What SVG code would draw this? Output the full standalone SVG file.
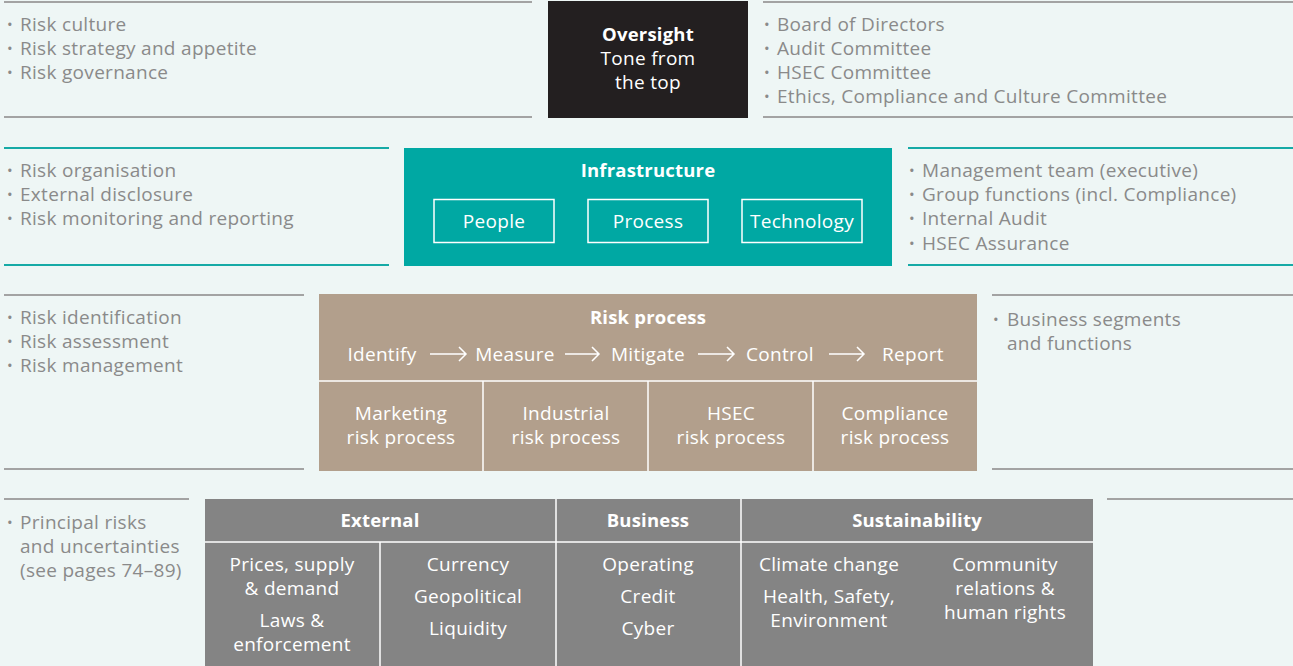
<svg xmlns="http://www.w3.org/2000/svg" width="1293" height="666" viewBox="0 0 1293 666">
<style>
text{font-family:"Open Sans","Noto Sans","Liberation Sans",sans-serif;font-size:19px;letter-spacing:0.3px}
.li{fill:#8a8a8a}
.w{fill:#ffffff}
.c{text-anchor:middle}
.b{font-weight:700;font-size:18.5px;letter-spacing:0.2px}
.gl{stroke:#a3a3a3;stroke-width:2}
.tl{stroke:#16aaa6;stroke-width:2}
.wl{stroke:#ffffff;stroke-width:1.5;fill:none}
.bu{font-size:15px}
</style>
<rect width="1293" height="666" fill="#eef6f5"/>
<g id="connectors">
<line class="gl" x1="4" y1="2" x2="532" y2="2"/><line class="gl" x1="4" y1="117" x2="532" y2="117"/>
<line class="gl" x1="763" y1="2" x2="1293" y2="2"/><line class="gl" x1="763" y1="117" x2="1293" y2="117"/>
<line class="tl" x1="4" y1="148" x2="389" y2="148"/><line class="tl" x1="4" y1="265" x2="389" y2="265"/>
<line class="tl" x1="908" y1="148" x2="1293" y2="148"/><line class="tl" x1="908" y1="265" x2="1293" y2="265"/>
<line class="gl" x1="4" y1="295" x2="304" y2="295"/><line class="gl" x1="4" y1="469" x2="304" y2="469"/>
<line class="gl" x1="992" y1="295" x2="1293" y2="295"/><line class="gl" x1="992" y1="469" x2="1293" y2="469"/>
<line class="gl" x1="4" y1="499" x2="189" y2="499"/><line class="gl" x1="1107" y1="499" x2="1293" y2="499"/>
</g>
<g id="oversight-left" class="li">
<text class="bu" x="7" y="30">•</text><text x="20" y="31">Risk culture</text>
<text class="bu" x="7" y="54">•</text><text x="20" y="55">Risk strategy and appetite</text>
<text class="bu" x="7" y="78">•</text><text x="20" y="79">Risk governance</text>
</g>
<g id="oversight">
<rect x="548" y="1" width="200" height="117" fill="#231f20"/>
<text class="w c b" x="648" y="41">Oversight</text>
<text class="w c" x="648" y="65">Tone from</text>
<text class="w c" x="648" y="89">the top</text>
</g>
<g id="oversight-right" class="li">
<text class="bu" x="764" y="30">•</text><text x="777" y="31">Board of Directors</text>
<text class="bu" x="764" y="54">•</text><text x="777" y="55">Audit Committee</text>
<text class="bu" x="764" y="78">•</text><text x="777" y="79">HSEC Committee</text>
<text class="bu" x="764" y="102">•</text><text x="777" y="103">Ethics, Compliance and Culture Committee</text>
</g>
<g id="infra-left" class="li">
<text class="bu" x="7" y="176">•</text><text x="20" y="177">Risk organisation</text>
<text class="bu" x="7" y="200">•</text><text x="20" y="201">External disclosure</text>
<text class="bu" x="7" y="224">•</text><text x="20" y="225">Risk monitoring and reporting</text>
</g>
<g id="infrastructure">
<rect x="404" y="148" width="488" height="118" fill="#00a8a3"/>
<text class="w c b" x="648" y="177">Infrastructure</text>
<rect class="wl" x="434" y="199.5" width="120" height="43"/>
<rect class="wl" x="588" y="199.5" width="120" height="43"/>
<rect class="wl" x="742" y="199.5" width="120" height="43"/>
<text class="w c" x="494" y="228">People</text>
<text class="w c" x="648" y="228">Process</text>
<text class="w c" x="802" y="228">Technology</text>
</g>
<g id="infra-right" class="li">
<text class="bu" x="909" y="176">•</text><text x="922" y="177">Management team (executive)</text>
<text class="bu" x="909" y="200">•</text><text x="922" y="201">Group functions (incl. Compliance)</text>
<text class="bu" x="909" y="224">•</text><text x="922" y="225">Internal Audit</text>
<text class="bu" x="909" y="249">•</text><text x="922" y="250">HSEC Assurance</text>
</g>
<g id="process-left" class="li">
<text class="bu" x="7" y="323">•</text><text x="20" y="324">Risk identification</text>
<text class="bu" x="7" y="347">•</text><text x="20" y="348">Risk assessment</text>
<text class="bu" x="7" y="371">•</text><text x="20" y="372">Risk management</text>
</g>
<g id="risk-process">
<rect x="319" y="294" width="658" height="177" fill="#b29f8c"/>
<line class="wl" x1="319" y1="381" x2="977" y2="381"/>
<line class="wl" x1="483" y1="381" x2="483" y2="471"/>
<line class="wl" x1="648" y1="381" x2="648" y2="471"/>
<line class="wl" x1="813" y1="381" x2="813" y2="471"/>
<text class="w c b" x="648" y="324">Risk process</text>
<text class="w c" x="382" y="361">Identify</text>
<text class="w c" x="515" y="361">Measure</text>
<text class="w c" x="648" y="361">Mitigate</text>
<text class="w c" x="780" y="361">Control</text>
<text class="w c" x="913" y="361">Report</text>
<path class="wl" d="M430 354H466M459 347L466 354L459 361"/>
<path class="wl" d="M565 354H599M592 347L599 354L592 361"/>
<path class="wl" d="M698 354H734M727 347L734 354L727 361"/>
<path class="wl" d="M829 354H864M857 347L864 354L857 361"/>
<text class="w c" x="401" y="420">Marketing</text><text class="w c" x="401" y="444">risk process</text>
<text class="w c" x="566" y="420">Industrial</text><text class="w c" x="566" y="444">risk process</text>
<text class="w c" x="731" y="420">HSEC</text><text class="w c" x="731" y="444">risk process</text>
<text class="w c" x="895" y="420">Compliance</text><text class="w c" x="895" y="444">risk process</text>
</g>
<g id="process-right" class="li">
<text class="bu" x="993" y="325">•</text><text x="1007" y="326">Business segments</text>
<text x="1007" y="350">and functions</text>
</g>
<g id="principal-left" class="li">
<text class="bu" x="7" y="528">•</text><text x="20" y="529">Principal risks</text>
<text x="20" y="553">and uncertainties</text>
<text x="20" y="577">(see pages 74–89)</text>
</g>
<g id="principal-risks">
<rect x="205" y="499" width="888" height="167" fill="#848484"/>
<line class="wl" x1="205" y1="542" x2="1093" y2="542"/>
<line class="wl" x1="556" y1="499" x2="556" y2="666"/>
<line class="wl" x1="741" y1="499" x2="741" y2="666"/>
<line class="wl" x1="380" y1="542" x2="380" y2="666"/>
<text class="w c b" x="380" y="527">External</text>
<text class="w c b" x="648" y="527">Business</text>
<text class="w c b" x="917" y="527">Sustainability</text>
<text class="w c" x="292" y="571">Prices, supply</text>
<text class="w c" x="292" y="595">&amp; demand</text>
<text class="w c" x="292" y="627">Laws &amp;</text>
<text class="w c" x="292" y="651">enforcement</text>
<text class="w c" x="468" y="571">Currency</text>
<text class="w c" x="468" y="603">Geopolitical</text>
<text class="w c" x="468" y="635">Liquidity</text>
<text class="w c" x="648" y="571">Operating</text>
<text class="w c" x="648" y="603">Credit</text>
<text class="w c" x="648" y="635">Cyber</text>
<text class="w c" x="829" y="571">Climate change</text>
<text class="w c" x="829" y="603">Health, Safety,</text>
<text class="w c" x="829" y="627">Environment</text>
<text class="w c" x="1005" y="571">Community</text>
<text class="w c" x="1005" y="595">relations &amp;</text>
<text class="w c" x="1005" y="619">human rights</text>
</g>
</svg>
